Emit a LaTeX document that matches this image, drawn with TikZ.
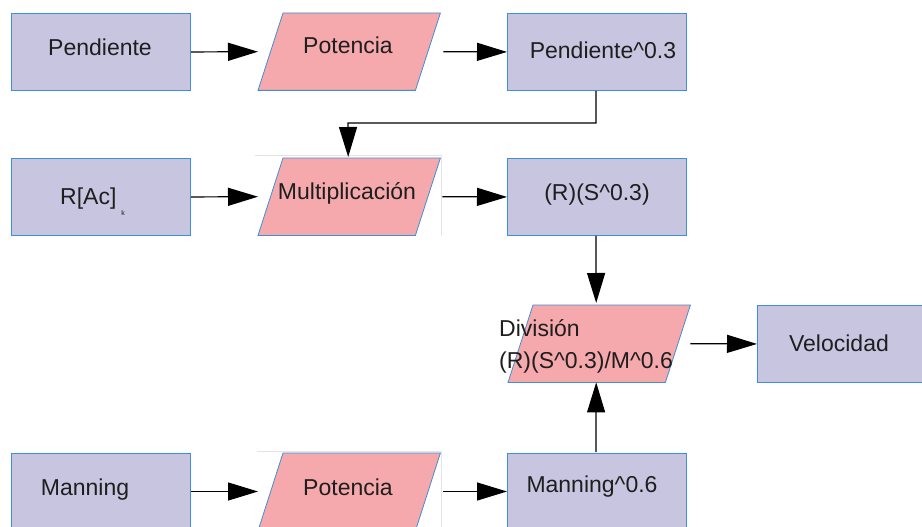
\documentclass[tikz,border=0pt]{standalone}
\usepackage{fontspec}
\setmainfont{Liberation Sans}
\usetikzlibrary{arrows.meta}
\definecolor{boxfill}{HTML}{C8C5E1}
\definecolor{boxline}{HTML}{3F8FD4}
\definecolor{opfill}{HTML}{F5A9AD}
\definecolor{ghost}{HTML}{E4E4E4}
\definecolor{ink}{HTML}{1E1E1E}

\begin{document}
\begin{tikzpicture}[x=1pt,y=-1pt,
  databox/.style={draw=boxline, fill=boxfill, line width=0.9pt,
    minimum width=179pt, minimum height=77pt, inner sep=0pt, anchor=north west},
  opframe/.style={minimum width=182pt, minimum height=77pt, inner sep=0pt, anchor=north west},
  txt/.style={inner sep=0pt, text=ink, font=\fontsize{23}{28}\selectfont},
  tip/.style={-{Triangle[length=30pt,width=18pt]}},
  flow/.style={draw, line width=1.2pt, tip},
]
\useasboundingbox (0,0) rectangle (922,527);
\clip (0,0) rectangle (922,527);

% parallelogram operator shape drawn inside a named frame node
\newcommand{\opshape}[1]{%
  \filldraw[fill=opfill, draw=boxline, line width=0.8pt]
    ([xshift=25pt]#1.north west) -- (#1.north east)
    -- ([xshift=-25pt]#1.south east) -- (#1.south west) -- cycle;}

% faint frames behind two operators
\draw[ghost, line width=0.8pt] (255,155) -- (441,155) -- (441,236);
\draw[ghost, line width=0.8pt] (257,451) -- (441,451) -- (441,527);

% row 1
\node[databox] (pend) at (11,13) {};
\node[opframe] (pot1) at (258,13) {};
\opshape{pot1}
\node[databox] (pend3) at (507,13) {};

% row 2
\node[databox] (rac) at (11,158) {};
\node[opframe] (mult) at (258,158) {};
\opshape{mult}
\node[databox] (rs) at (507,158) {};

% division and result
\node[opframe] (div) at (508,305) {};
\opshape{div}
\node[databox, minimum width=175pt] (vel) at (757,305) {};

% row 3 (runs past the lower edge)
\node[databox, minimum height=90pt] (man) at (11,453) {};
\node[opframe, minimum height=90pt] (pot2) at (258,453) {};
\filldraw[fill=opfill, draw=boxline, line width=0.8pt]
  ([xshift=25pt]pot2.north west) -- (pot2.north east)
  -- ([xshift=-29pt]pot2.south east) -- ([xshift=-4pt]pot2.south west) -- cycle;
\node[databox, minimum height=90pt] (man6) at (507,453) {};

% labels
\node[txt] (tpend) at (100,47) {Pendiente};
\node[txt] (tpot1) at (348,45) {Potencia};
\node[txt] (tpend3) at (603,50) {Pendiente\textasciicircum 0.3};
\node[txt, anchor=base west] (trac) at (60,204)
  {R[Ac]\hspace{5pt}\raisebox{-0.5em}{\fontsize{7}{7}\selectfont k}};
\node[txt] (tmult) at (347,193) {Multiplicación};
\node[txt] (trs) at (597,195) {(R)(S\textasciicircum 0.3)};
\node[txt, align=left, anchor=west, font=\fontsize{23}{32}\selectfont] (tdiv) at (499,346)
  {División\\(R)(S\textasciicircum 0.3)/M\textasciicircum 0.6};
\node[txt] (tvel) at (839,343) {Velocidad};
\node[txt] (tman) at (85,490) {Manning};
\node[txt] (tpot2) at (348,487) {Potencia};
\node[txt] (tman6) at (592,487) {Manning\textasciicircum 0.6};

% connectors
\draw[flow] (pend.east) -- (pot1.west);
\draw[flow] ([xshift=3pt]pot1.east) -- (pend3.west);
\draw[flow] ([xshift=-1pt]pend3.south) |- (348,123) -- ([xshift=-1pt,yshift=1pt]mult.north);
\draw[flow] (rac.east) -- (mult.west);
\draw[flow] ([xshift=2pt]mult.east) -- (rs.west);
\draw[flow] ([xshift=-1pt]rs.south) -- ([xshift=-3pt,yshift=2pt]div.north);
\draw[flow] ([xshift=-1pt,yshift=1pt]man6.north) -- ([xshift=-3pt]div.south);
\draw[flow] (div.east) -- (vel.west);
\draw[flow] ([yshift=-38.5pt]man.north east) -- ([yshift=-38.5pt]pot2.north west);
\draw[flow] ([xshift=3pt,yshift=-38.5pt]pot2.north east) -- ([yshift=-38.5pt]man6.north west);
\end{tikzpicture}
\end{document}
